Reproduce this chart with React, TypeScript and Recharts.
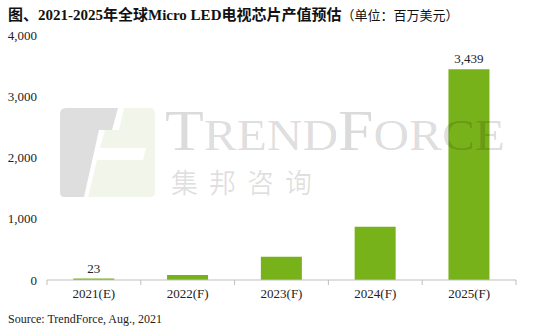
import { BarChart, Bar, XAxis, YAxis, LabelList } from "recharts";

const years = ["2021(E)", "2022(F)", "2023(F)", "2024(F)", "2025(F)"];
const values = [23, 80, 380, 870, 3439];
const shownLabels = ["23", "", "", "", "3,439"];
const yTicks = [0, 1000, 2000, 3000, 4000];

const data = years.map((year, i) => ({ year, value: values[i], label: shownLabels[i] }));

const serif = "'Liberation Serif', 'Times New Roman', serif";
const cjk = "'Liberation Serif', 'Noto Sans CJK SC', serif";

// plot box
const LEFT = 47;
const RIGHT = 36;
const W = 552;
const BAND = (W - LEFT - RIGHT) / years.length;
const AXIS_Y = 280;

const XTick = (props: any) => {
  const { x, y, payload, index } = props;
  const isLast = index === years.length - 1;
  return (
    <g>
      <line x1={x - BAND / 2} x2={x - BAND / 2} y1={AXIS_Y} y2={AXIS_Y + 5} stroke="#bfbfbf" />
      {isLast && (
        <line x1={x + BAND / 2} x2={x + BAND / 2} y1={AXIS_Y} y2={AXIS_Y + 5} stroke="#bfbfbf" />
      )}
      <text x={x} y={y + 10} textAnchor="middle" fontFamily={serif} fontSize={13} fill="#222">
        {payload.value}
      </text>
    </g>
  );
};

// faint TrendForce watermark drawn over the plot
const Watermark = () => (
  <svg width={552} height={331} style={{ position: "absolute", left: 0, top: 0, pointerEvents: "none" }}>
    <g opacity={0.45}>
      <path d="M66,108 L118,108 L112,130 L99,130 L84,197 L64,197 Q60,197 60,192 L60,114 Q60,108 66,108 Z" fill="#b8b8b8" />
      <path d="M124,108 L150,108 Q155,108 155,114 L155,192 Q155,197 150,197 L88,197 L97,160 L143,160 L146,148 L100,148 L105,130 L119,130 Z" fill="#e3ebd2" />
    </g>
    <text x={165} y={150} fontFamily={serif} fill="rgba(0,0,0,0.14)" textLength={340} lengthAdjust="spacingAndGlyphs">
      <tspan fontSize={58}>T</tspan>
      <tspan fontSize={45}>REND</tspan>
      <tspan fontSize={58}>F</tspan>
      <tspan fontSize={45}>ORCE</tspan>
    </text>
    <text
      x={171}
      y={193}
      fontFamily="'Noto Sans CJK SC', sans-serif"
      fontSize={27}
      letterSpacing={11}
      fill="rgba(0,0,0,0.12)"
    >
      集邦咨询
    </text>
  </svg>
);

export default function App() {
  return (
    <div style={{ position: "fixed", left: 0, top: 0, width: 552, height: 331, background: "#fff", overflow: "hidden" }}>
      <div style={{ position: "absolute", left: 8, top: 3, whiteSpace: "nowrap", color: "#111" }}>
        <span style={{ fontFamily: cjk, fontWeight: 700, fontSize: 15 }}>
          图、2021-2025年全球Micro LED电视芯片产值预估
        </span>
        <span style={{ fontFamily: "'Noto Sans CJK SC', sans-serif", fontSize: 13 }}>（单位：百万美元）</span>
      </div>
      <div style={{ position: "absolute", left: 0, top: 0 }}>
        <BarChart
          width={W}
          height={310}
          data={data}
          margin={{ top: 35, right: RIGHT, left: 0, bottom: 0 }}
          barCategoryGap="28%"
        >
          <XAxis
            dataKey="year"
            height={30}
            axisLine={{ stroke: "#bfbfbf" }}
            tickLine={false}
            tick={<XTick />}
            interval={0}
          />
          <YAxis
            width={LEFT}
            domain={[0, 4000]}
            ticks={yTicks}
            axisLine={false}
            tickLine={false}
            tickMargin={4}
            tickFormatter={(v: number) => v.toLocaleString("en-US")}
            tick={{ fontFamily: serif, fontSize: 13, fill: "#222" }}
          />
          <Bar dataKey="value" fill="#78B21A" isAnimationActive={false}>
            <LabelList dataKey="label" position="top" offset={6} fontFamily={serif} fontSize={13} fill="#222" />
          </Bar>
        </BarChart>
      </div>
      <Watermark />
      <div style={{ position: "absolute", left: 8, top: 312, fontFamily: serif, fontSize: 12, color: "#222" }}>
        Source: TrendForce, Aug., 2021
      </div>
    </div>
  );
}
